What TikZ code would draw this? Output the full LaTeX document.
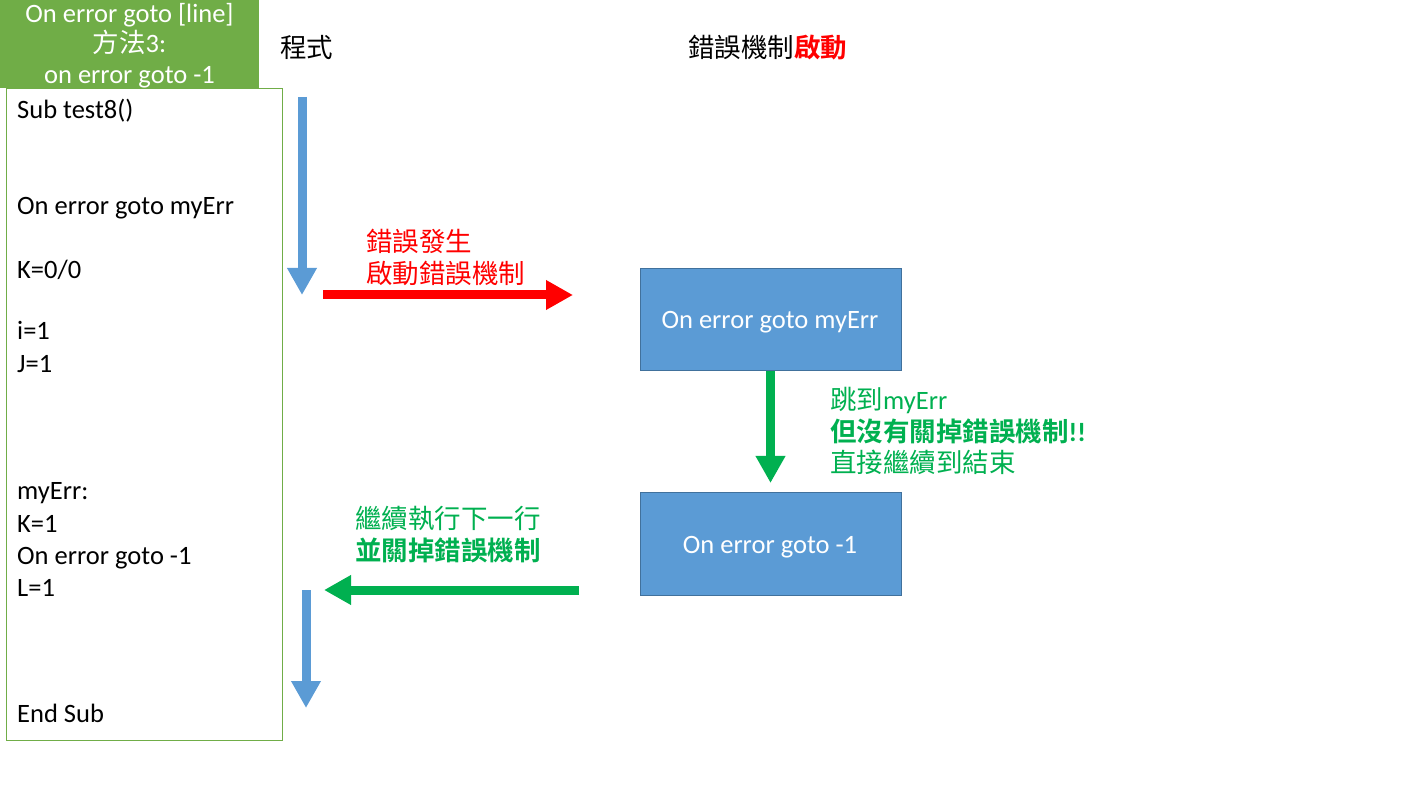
\documentclass[tikz,border=0pt]{standalone}
\usepackage{fontspec}
\setmainfont{Carlito}
\newfontfamily\cjk{Noto Sans CJK TC}[BoldFont={Noto Sans CJK TC Bold}]
\usetikzlibrary{arrows.meta}
\definecolor{hdrgreen}{HTML}{70AD47}
\definecolor{boxblue}{HTML}{5B9BD5}
\definecolor{boxedge}{HTML}{41719C}
\definecolor{txtgreen}{HTML}{00B050}
\definecolor{txtred}{HTML}{FF0000}
\tikzset{
  txt/.style={font=\fontsize{26.5}{31}\selectfont, inner sep=0pt, anchor=base west},
  hdrtxt/.style={txt, anchor=base, text=white},
  bluebox/.style={fill=boxblue, draw=boxedge, line width=0.8pt, minimum width=261pt, minimum height=102pt, anchor=north west, inner sep=0pt},
  bigarrow/.style={line width=9pt, -{Triangle[width=28pt,length=27pt]}},
}
\begin{document}
\begin{tikzpicture}[x=1pt,y=-1pt]
\useasboundingbox (0,0) rectangle (1409,791);
% header
\node[fill=hdrgreen, minimum width=259pt, minimum height=88pt, anchor=north west, inner sep=0pt] (hdr) at (0,0) {};
\node[hdrtxt] (h1) at (129.5,23) {On error goto [line]};
\node[hdrtxt] (h2) at (129.5,53) {{\cjk 方法}3:};
\node[hdrtxt] (h3) at (129.5,84) {on error goto -1};
% code box
\node[draw=hdrgreen, fill=white, line width=0.8pt, minimum width=276pt, minimum height=652pt, anchor=north west, inner sep=0pt] (code) at (6,88) {};
\node[txt] (c1) at (17,119) {Sub test8()};
\node[txt] (c2) at (17,215) {On error goto myErr};
\node[txt] (c3) at (17,279) {K=0/0};
\node[txt] (c4) at (17,340) {i=1};
\node[txt] (c5) at (17,373) {J=1};
\node[txt] (c6) at (17,500) {myErr:};
\node[txt] (c7) at (17,532) {K=1};
\node[txt] (c8) at (17,564) {On error goto -1};
\node[txt] (c9) at (17,596) {L=1};
\node[txt] (c10) at (17,722) {End Sub};
% titles
\node[txt] (t1) at (280,58) {\cjk 程式};
\node[txt] (t2) at (688,58) {{\cjk 錯誤機制}{\cjk\bfseries\color{txtred}啟動}};
% blue boxes
\node[bluebox] (b1) at (639.5,268.5) {};
\node[txt, anchor=base, text=white] (b1t) at (770,329) {On error goto myErr};
\node[bluebox] (b2) at (639.5,492.5) {};
\node[txt, anchor=base, text=white] (b2t) at (770,553) {On error goto -1};
% red text
\node[txt, text=txtred] (r1) at (366,252) {\cjk 錯誤發生};
\node[txt, text=txtred] (r2) at (366,284) {\cjk 啟動錯誤機制};
% green right text
\node[txt, text=txtgreen] (g1) at (830,410) {{\cjk 跳到}myErr};
\node[txt, text=txtgreen] (g2) at (830,442) {{\cjk\bfseries 但沒有關掉錯誤機制}\textbf{!!}};
\node[txt, text=txtgreen] (g3) at (830,473) {\cjk 直接繼續到結束};
% green left text
\node[txt, text=txtgreen] (g4) at (355,528) {\cjk 繼續執行下一行};
\node[txt, text=txtgreen] (g5) at (355,560) {\cjk\bfseries 並關掉錯誤機制};
% arrow coordinates
\coordinate (a1s) at (302,97);
\coordinate (a1e) at (302,295);
\coordinate (a2s) at (306,590);
\coordinate (a2e) at (306,708);
\coordinate (rs) at (323,295);
\coordinate (re) at (573,295);
\coordinate (gd) at (770.5,483);
\coordinate (gls) at (579,590);
\coordinate (gle) at (324,590);
% arrows
\draw[bigarrow, boxblue] (a1s) -- (a1e);
\draw[bigarrow, boxblue] (a2s) -- (a2e);
\draw[bigarrow, txtred] (rs) -- (re);
\draw[bigarrow, txtgreen] (b1.south -| gd) -- (gd);
\draw[bigarrow, txtgreen] (gls) -- (gle);
\end{tikzpicture}
\end{document}
